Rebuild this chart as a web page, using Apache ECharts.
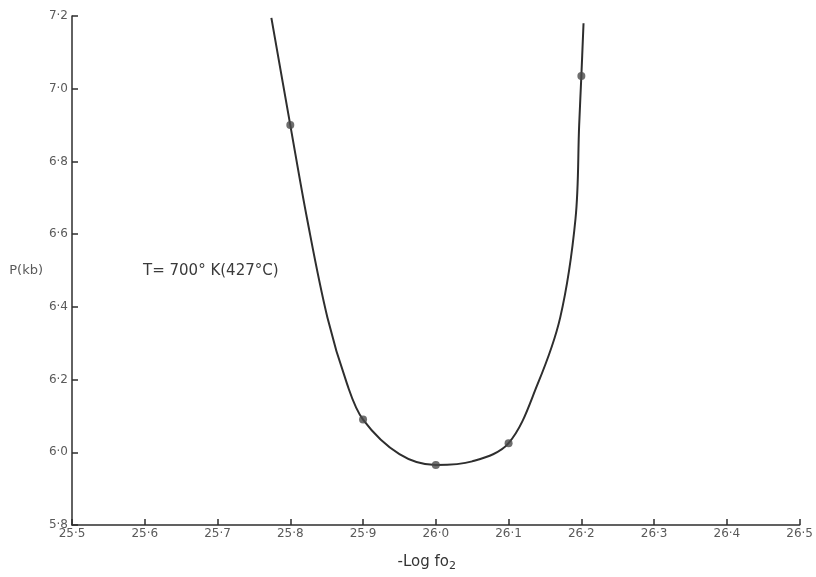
<!DOCTYPE html>
<html>
<head>
<meta charset="utf-8">
<script src="https://cdn.jsdelivr.net/npm/echarts@6/dist/echarts.min.js"></script>
<style>
  html, body { margin: 0; padding: 0; background: #ffffff; }
  #chart { width: 816px; height: 577px; }
</style>
</head>
<body>
<div id="chart"></div>
<script>
// measured points
const pointX = [25.8, 25.9, 26.0, 26.1, 26.2];
const pointP = [6.90, 6.09, 5.965, 6.025, 7.035];

// hand-drawn curve
const curveX = [25.774, 25.8, 25.823, 25.851, 25.878, 25.9, 25.95, 26.0, 26.05, 26.1, 26.14, 26.171, 26.192, 26.197, 26.2, 26.203];
const curveP = [7.195, 6.90, 6.643, 6.371, 6.188, 6.09, 5.995, 5.965, 5.975, 6.025, 6.188, 6.371, 6.643, 6.90, 7.035, 7.18];

const xTicks = [25.5, 26.5, 0.1];
const yTicks = [5.8, 7.2, 0.2];

const colors = {
  line: "#2e2e2e",
  dot: "#4a4a4a",
  text: "#5a5a5a",
};

const dotLabel = (v) => v.toFixed(1).replace(".", "·");

const chart = echarts.init(document.getElementById("chart"), null, { renderer: "canvas" });

const options = {
  animation: false,
  grid: { left: 72, right: 12, top: 16, bottom: 46 },
  xAxis: {
    type: "value",
    min: xTicks[0],
    max: xTicks[1],
    interval: xTicks[2],
    name: "-Log fo{sub|2}",
    nameLocation: "middle",
    nameGap: 28,
    nameTextStyle: {
      color: "#333",
      fontSize: 15,
      fontFamily: "DejaVu Sans",
      padding: [0, 18, 0, 0],
      rich: {
        sub: { fontSize: 11, verticalAlign: "bottom", padding: [8, 0, 0, 0], color: "#333" },
      },
    },
    splitLine: { show: false },
    axisLine: { lineStyle: { color: colors.line, width: 1.5 } },
    axisTick: { inside: true, length: 6, lineStyle: { color: colors.line, width: 1.5 } },
    axisLabel: {
      color: colors.text,
      fontSize: 12,
      fontFamily: "DejaVu Sans",
      margin: 3,
      formatter: dotLabel,
    },
  },
  yAxis: {
    type: "value",
    min: yTicks[0],
    max: yTicks[1],
    interval: yTicks[2],
    name: "P(kb)",
    nameLocation: "middle",
    nameRotate: 0,
    nameGap: 24,
    nameTextStyle: { color: colors.text, fontSize: 13, fontFamily: "DejaVu Sans" },
    splitLine: { show: false },
    axisLine: { show: true, lineStyle: { color: colors.line, width: 1.5 } },
    axisTick: { show: true, inside: true, length: 6, lineStyle: { color: colors.line, width: 1.5 } },
    axisLabel: {
      color: colors.text,
      fontSize: 12,
      fontFamily: "DejaVu Sans",
      margin: 4,
      formatter: dotLabel,
    },
  },
  graphic: [
    {
      type: "text",
      left: 143,
      top: 264,
      style: {
        text: "T= 700° K(427°C)",
        fill: "#3a3a3a",
        font: "15px 'DejaVu Sans'",
      },
    },
  ],
  series: [
    {
      type: "line",
      data: curveX.map((x, i) => [x, curveP[i]]),
      smooth: 0.35,
      showSymbol: false,
      lineStyle: { color: colors.line, width: 2 },
      z: 2,
    },
    {
      type: "scatter",
      data: pointX.map((x, i) => [x, pointP[i]]),
      symbolSize: 8,
      itemStyle: { color: colors.dot },
      z: 3,
    },
  ],
};

chart.setOption(options);
</script>
</body>
</html>
